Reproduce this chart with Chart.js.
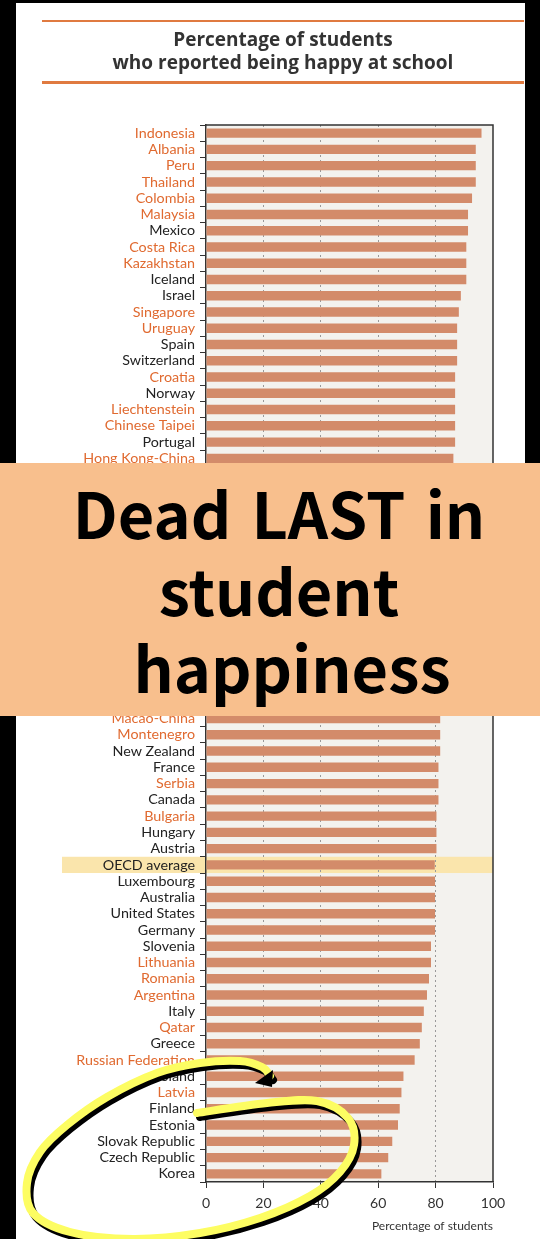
<!DOCTYPE html>
<html>
<head>
<meta charset="utf-8">
<script src="https://cdn.jsdelivr.net/npm/chart.js@4.4.1/dist/chart.umd.min.js"></script>
<style>
  body { margin: 0; background: #fff; }
  #wrap { position: relative; width: 540px; height: 1239px; overflow: hidden; background: #fff; }
  #c { position: absolute; left: 0; top: 0; }
  .blk { position: absolute; background: #000; }
  .rule { position: absolute; left: 42px; width: 482px; background: #e07a40; }
  #title { position: absolute; left: 42px; width: 482px; top: 28px; text-align: center;
    font: bold 19px "Open Sans", sans-serif; line-height: 23px; color: #333; }
  #banner { position: absolute; left: 0; top: 463px; width: 540px; height: 253px; background: #f8bf8d;
    text-align: center; font: bold 63px "Noto Sans CJK KR", "Noto Sans", sans-serif; line-height: 77px;
    color: #000; padding-top: 10px; padding-left: 18px; box-sizing: border-box; }
  #banner .w { word-spacing: 6px; }
  #banner span.h { position: relative; left: 13px; }
</style>
</head>
<body>
<div id="wrap">
  <canvas id="c" width="540" height="1239"></canvas>
  <div class="blk" style="left:0;top:0;width:16px;height:1239px"></div>
  <div class="blk" style="left:0;top:0;width:540px;height:3px"></div>
  <div class="blk" style="left:525px;top:0;width:15px;height:463px"></div>
  <div class="rule" style="top:20px;height:2px"></div>
  <div id="title">Percentage of students<br>who reported being happy at school</div>
  <div class="rule" style="top:81px;height:3px"></div>
  <div id="banner"><span class="w">Dead LAST in</span><br>student<br><span class="h">happiness</span></div>
</div>
<script>
const countries = [
  "Indonesia", "Albania", "Peru", "Thailand", "Colombia", "Malaysia", "Mexico",
  "Costa Rica", "Kazakhstan", "Iceland", "Israel", "Singapore", "Uruguay", "Spain",
  "Switzerland", "Croatia", "Norway", "Liechtenstein", "Chinese Taipei", "Portugal",
  "Hong Kong-China", "Denmark", "Netherlands", "Brazil", "Tunisia", "Viet Nam", "Chile",
  "Jordan", "Sweden", "Ireland", "Belgium", "Japan", "Turkey", "United Arab Emirates",
  "United Kingdom", "Shanghai-China", "Macao-China", "Montenegro", "New Zealand", "France",
  "Serbia", "Canada", "Bulgaria", "Hungary", "Austria", "OECD average", "Luxembourg",
  "Australia", "United States", "Germany", "Slovenia", "Lithuania", "Romania", "Argentina",
  "Italy", "Qatar", "Greece", "Russian Federation", "Poland", "Latvia", "Finland",
  "Estonia", "Slovak Republic", "Czech Republic", "Korea"
];

const happy = [
  96.0, 94.0, 94.0, 94.0, 92.7, 91.3, 91.3,
  90.7, 90.7, 90.7, 88.8, 88.1, 87.5, 87.5,
  87.5, 86.8, 86.8, 86.8, 86.8, 86.8,
  86.2, 86.0, 85.8, 85.5, 85.3, 85.0, 84.7,
  84.4, 84.0, 83.7, 83.4, 83.0, 82.7, 82.3,
  82.0, 81.8, 81.6, 81.6, 81.6, 81.0,
  81.0, 81.0, 80.3, 80.3, 80.3, 79.7, 79.8,
  79.8, 79.8, 79.8, 78.4, 78.4, 77.7, 77.0,
  75.9, 75.2, 74.5, 72.7, 68.8, 68.1, 67.5,
  66.9, 64.9, 63.5, 61.1
];

// partner economies get orange labels
const partners = [
  "Indonesia", "Albania", "Peru", "Thailand", "Colombia", "Malaysia", "Costa Rica",
  "Kazakhstan", "Singapore", "Uruguay", "Croatia", "Liechtenstein", "Chinese Taipei",
  "Hong Kong-China", "Brazil", "Tunisia", "Viet Nam", "Jordan", "United Arab Emirates",
  "Shanghai-China", "Macao-China", "Montenegro", "Serbia", "Bulgaria", "Lithuania",
  "Romania", "Argentina", "Qatar", "Russian Federation", "Latvia"
];

const xTicks = [0, 20, 40, 60, 80, 100];

// hand-drawn loop around the bottom of the list
const scribble = [
  [197, 1113], [267, 1103], [317, 1101], [348, 1118], [354, 1145], [340, 1172],
  [310, 1196], [260, 1218], [200, 1233], [133, 1239], [70, 1232], [33, 1213],
  [27, 1183], [40, 1152], [67, 1125], [107, 1097], [157, 1073], [200, 1063],
  [240, 1061], [262, 1067], [270, 1076]
];

function tracePath(ctx, pts, dx, dy) {
  ctx.beginPath();
  ctx.moveTo(pts[0][0] + dx, pts[0][1] + dy);
  for (let i = 0; i < pts.length - 1; i++) {
    const p0 = pts[Math.max(i - 1, 0)], p1 = pts[i], p2 = pts[i + 1], p3 = pts[Math.min(i + 2, pts.length - 1)];
    ctx.bezierCurveTo(
      p1[0] + (p2[0] - p0[0]) / 6 + dx, p1[1] + (p2[1] - p0[1]) / 6 + dy,
      p2[0] - (p3[0] - p1[0]) / 6 + dx, p2[1] - (p3[1] - p1[1]) / 6 + dy,
      p2[0] + dx, p2[1] + dy
    );
  }
}

const decor = {
  id: "decor",
  beforeDraw(chart) {
    const { ctx, chartArea: a, scales: { y } } = chart;
    ctx.save();
    ctx.fillStyle = "#f3f2ee";
    ctx.fillRect(a.left, a.top, a.right - a.left, a.bottom - a.top);
    const row = (a.bottom - a.top) / countries.length;
    const yc = y.getPixelForValue(countries.indexOf("OECD average"));
    ctx.fillStyle = "#fae5ac";
    ctx.fillRect(62, yc - row / 2, a.right - 62, row);
    ctx.restore();
  },
  afterDraw(chart) {
    const { ctx, chartArea: a } = chart;
    ctx.save();
    ctx.strokeStyle = "#333";
    ctx.lineWidth = 1.5;
    ctx.beginPath();
    ctx.moveTo(a.left, a.top);
    ctx.lineTo(a.right, a.top);
    ctx.lineTo(a.right, a.bottom);
    ctx.stroke();

    ctx.lineCap = "round";
    ctx.lineJoin = "round";
    ctx.lineWidth = 8;
    ctx.strokeStyle = "#000";
    tracePath(ctx, scribble, 3, 4);
    ctx.stroke();
    ctx.strokeStyle = "#fdfd62";
    tracePath(ctx, scribble, 0, 0);
    ctx.stroke();
    ctx.fillStyle = "#000";
    ctx.beginPath();
    ctx.moveTo(273, 1070);
    ctx.lineTo(272, 1087);
    ctx.lineTo(255, 1083);
    ctx.closePath();
    ctx.fill();
    ctx.restore();
  }
};

new Chart(document.getElementById("c"), {
  type: "bar",
  data: {
    labels: countries,
    datasets: [{
      data: happy,
      backgroundColor: "#d38b6a",
      barPercentage: 0.58,
      categoryPercentage: 1
    }]
  },
  options: {
    indexAxis: "y",
    responsive: false,
    animation: false,
    layout: { padding: { top: 125, right: 47, bottom: 0, left: 0 } },
    plugins: { legend: { display: false }, tooltip: { enabled: false } },
    scales: {
      y: {
        afterFit: (s) => { s.width = 206; },
        grid: { drawOnChartArea: false, tickLength: 6, color: "#333" },
        border: { color: "#333", width: 1.5 },
        ticks: {
          autoSkip: false,
          padding: 5,
          color: (c) => partners.includes(countries[c.index]) ? "#e06a30" : "#222",
          font: { family: "Lato", size: 14.3 }
        }
      },
      x: {
        min: 0,
        max: 100,
        afterFit: (s) => { s.height = 57; },
        afterBuildTicks: (s) => { s.ticks = xTicks.map((v) => ({ value: v })); },
        grid: {
          color: (c) => (c.tick && c.tick.value % 100 === 0) ? "rgba(0,0,0,0)" : "#999",
          tickColor: "#333",
          tickLength: 6
        },
        border: { color: "#333", width: 1.5, dash: [2, 3] },
        ticks: { padding: 7, color: "#333", font: { family: "Lato", size: 14 } },
        title: {
          display: true,
          text: "Percentage of students",
          align: "end",
          color: "#333",
          font: { family: "Lato", size: 12 },
          padding: { top: 0, bottom: 6 }
        }
      }
    }
  },
  plugins: [decor]
});
</script>
</body>
</html>
